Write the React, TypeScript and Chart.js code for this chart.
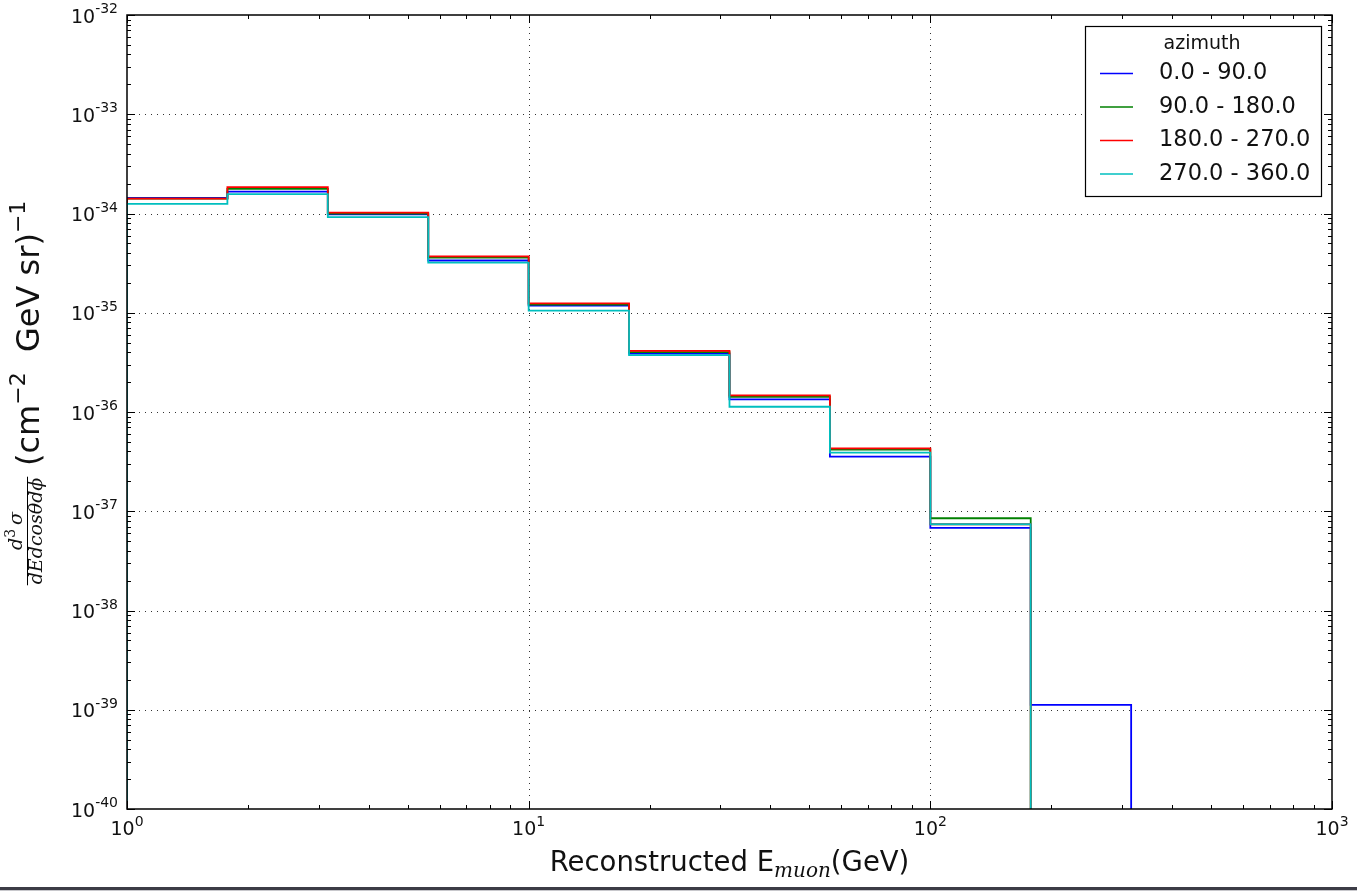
import React, { useEffect, useRef } from "react";
import { Chart, registerables } from "chart.js";

Chart.register(...registerables);

// Muon energy bin edges (GeV), logarithmic binning, 4 bins per decade
const binEdges = [1, 1.778, 3.162, 5.623, 10, 17.78, 31.62, 56.23, 100, 177.8, 316.2];

// Differential cross section per azimuth slice, cm^-2 GeV^-1 sr^-1 (0 = empty bin)
const azimuth0to90 = [1.44e-34, 1.66e-34, 9.8e-35, 3.36e-35, 1.18e-35, 3.88e-36, 1.34e-36, 3.55e-37, 6.8e-38, 1.12e-39];
const azimuth90to180 = [1.41e-34, 1.77e-34, 1.0e-34, 3.6e-35, 1.21e-35, 4.02e-36, 1.42e-36, 4.19e-37, 8.5e-38, 0];
const azimuth180to270 = [1.41e-34, 1.84e-34, 1.02e-34, 3.69e-35, 1.245e-35, 4.12e-36, 1.47e-36, 4.31e-37, 7.4e-38, 0];
const azimuth270to360 = [1.25e-34, 1.57e-34, 9.2e-35, 3.2e-35, 1.05e-35, 3.75e-36, 1.13e-36, 3.89e-37, 7.4e-38, 0];

const seriesLabels = ["0.0 - 90.0", "90.0 - 180.0", "180.0 - 270.0", "270.0 - 360.0"];
const seriesColors = ["#0000ff", "#008000", "#ff0000", "#00bfbf"];
const seriesValues = [azimuth0to90, azimuth90to180, azimuth180to270, azimuth270to360];

const legendTitle = "azimuth";
const xTickExponents = [0, 1, 2, 3];
const yTickExponents = [-32, -33, -34, -35, -36, -37, -38, -39, -40];

const X_MIN = 1;
const X_MAX = 1000;
const Y_MIN = 1e-40;
const Y_MAX = 1e-32;

const SANS = '"DejaVu Sans", sans-serif';
const SERIF = '"DejaVu Serif", serif';

// Outline of a step histogram: rises from the axis floor at the first edge,
// follows each bin, and drops back to the floor after the last filled bin
function stepOutline(edges: number[], values: number[]) {
  let last = values.length - 1;
  while (last >= 0 && !(values[last] > 0)) last--;
  const pts: { x: number; y: number }[] = [];
  pts.push({ x: edges[0], y: Y_MIN });
  for (let i = 0; i <= last; i++) {
    const v = values[i] > 0 ? values[i] : Y_MIN;
    pts.push({ x: edges[i], y: v });
    pts.push({ x: edges[i + 1], y: v });
  }
  pts.push({ x: edges[last + 1], y: Y_MIN });
  return pts;
}

function drawPower(ctx: CanvasRenderingContext2D, exp: string, x: number, baseline: number, align: "right" | "center") {
  ctx.font = `19px ${SANS}`;
  const wBase = ctx.measureText("10").width;
  ctx.font = `14px ${SANS}`;
  const wSup = ctx.measureText(exp).width;
  const total = wBase + wSup;
  const left = align === "right" ? x - total : x - total / 2;
  ctx.textAlign = "left";
  ctx.textBaseline = "alphabetic";
  ctx.font = `19px ${SANS}`;
  ctx.fillText("10", left, baseline);
  ctx.font = `14px ${SANS}`;
  ctx.fillText(exp, left + wBase, baseline - 9.5);
}

const axesDecor = {
  id: "axesDecor",
  beforeDatasetsDraw(chart: any) {
    const { ctx, chartArea: a, scales } = chart;
    ctx.save();
    ctx.strokeStyle = "#333";
    ctx.lineWidth = 1;
    ctx.setLineDash([1, 5]);
    xTickExponents.forEach((e) => {
      const px = Math.round(scales.x.getPixelForValue(Math.pow(10, e))) + 0.5;
      if (px <= a.left + 1 || px >= a.right - 1) return;
      ctx.beginPath();
      ctx.moveTo(px, a.top);
      ctx.lineTo(px, a.bottom);
      ctx.stroke();
    });
    yTickExponents.forEach((e) => {
      const py = Math.round(scales.y.getPixelForValue(Math.pow(10, e))) + 0.5;
      if (py <= a.top + 1 || py >= a.bottom - 1) return;
      ctx.beginPath();
      ctx.moveTo(a.left, py);
      ctx.lineTo(a.right, py);
      ctx.stroke();
    });
    ctx.restore();
  },
  afterDatasetsDraw(chart: any) {
    const { ctx, chartArea: a, scales } = chart;
    ctx.save();
    ctx.setLineDash([]);
    ctx.strokeStyle = "#000";
    ctx.fillStyle = "#000";

    // tick marks on all four sides, pointing inward
    ctx.lineWidth = 1;
    const xMin = Math.log10(X_MIN), xMax = Math.log10(X_MAX);
    const yMin = Math.log10(Y_MIN), yMax = Math.log10(Y_MAX);
    ctx.beginPath();
    for (let d = xMin; d <= xMax; d++) {
      for (let k = 1; k <= 9; k++) {
        const v = k * Math.pow(10, d);
        if (v > X_MAX * 1.0001) break;
        const px = Math.round(scales.x.getPixelForValue(v)) + 0.5;
        const len = k === 1 ? 8 : 4;
        ctx.moveTo(px, a.bottom);
        ctx.lineTo(px, a.bottom - len);
        ctx.moveTo(px, a.top);
        ctx.lineTo(px, a.top + len);
      }
    }
    for (let d = yMin; d <= yMax; d++) {
      for (let k = 1; k <= 9; k++) {
        const v = k * Math.pow(10, d);
        if (v > Y_MAX * 1.0001) break;
        const py = Math.round(scales.y.getPixelForValue(v)) + 0.5;
        const len = k === 1 ? 8 : 4;
        ctx.moveTo(a.left, py);
        ctx.lineTo(a.left + len, py);
        ctx.moveTo(a.right, py);
        ctx.lineTo(a.right - len, py);
      }
    }
    ctx.stroke();

    // frame
    ctx.lineWidth = 1.5;
    ctx.strokeRect(a.left, a.top, a.right - a.left, a.bottom - a.top);

    // tick labels
    ctx.fillStyle = "#111";
    yTickExponents.forEach((e) => {
      const py = scales.y.getPixelForValue(Math.pow(10, e));
      drawPower(ctx, String(e), a.left - 9, py + 7.5, "right");
    });
    xTickExponents.forEach((e) => {
      const px = scales.x.getPixelForValue(Math.pow(10, e));
      drawPower(ctx, String(e), px, a.bottom + 26, "center");
    });

    // x axis title
    const xMain = "Reconstructed E";
    const xSub = "muon";
    const xTail = "(GeV)";
    ctx.font = `27.5px ${SANS}`;
    const w1 = ctx.measureText(xMain).width;
    const w3 = ctx.measureText(xTail).width;
    ctx.font = `italic 20px ${SERIF}`;
    const w2 = ctx.measureText(xSub).width;
    const cx = (a.left + a.right) / 2;
    let tx = cx - (w1 + w2 + w3) / 2;
    const tb = 871;
    ctx.textAlign = "left";
    ctx.textBaseline = "alphabetic";
    ctx.font = `27.5px ${SANS}`;
    ctx.fillText(xMain, tx, tb);
    tx += w1;
    ctx.font = `italic 20px ${SERIF}`;
    ctx.fillText(xSub, tx, tb + 6);
    tx += w2;
    ctx.font = `27.5px ${SANS}`;
    ctx.fillText(xTail, tx, tb);

    // y axis title: fraction followed by units, rotated
    ctx.save();
    ctx.translate(27, 531);
    ctx.rotate(-Math.PI / 2);
    ctx.textAlign = "left";
    ctx.textBaseline = "alphabetic";
    ctx.font = `italic 19px ${SERIF}`;
    const den = "dEdcosθdϕ";
    const wDen = ctx.measureText(den).width;
    ctx.fillText(den, -wDen / 2, 15);
    // numerator d^3 sigma
    const wd = ctx.measureText("d").width;
    const wsig = ctx.measureText("σ").width;
    ctx.font = `14px ${SERIF}`;
    const w3n = ctx.measureText("3").width;
    const numW = wd + w3n + 4 + wsig;
    let nx = -numW / 2;
    ctx.font = `italic 19px ${SERIF}`;
    ctx.fillText("d", nx, -5);
    nx += wd;
    ctx.font = `14px ${SERIF}`;
    ctx.fillText("3", nx, -12);
    nx += w3n + 4;
    ctx.font = `italic 19px ${SERIF}`;
    ctx.fillText("σ", nx, -5);
    ctx.lineWidth = 1;
    ctx.beginPath();
    ctx.moveTo(-wDen / 2 - 1, 0.5);
    ctx.lineTo(wDen / 2 + 1, 0.5);
    ctx.stroke();
    ctx.restore();

    ctx.save();
    ctx.translate(39, 466);
    ctx.rotate(-Math.PI / 2);
    ctx.textBaseline = "alphabetic";
    ctx.textAlign = "left";
    let ux = 0;
    const part = (txt: string, size: number, dy: number) => {
      ctx.font = `${size}px ${SANS}`;
      ctx.fillText(txt, ux, dy);
      ux += ctx.measureText(txt).width;
    };
    part("(cm", 32, 0);
    part("\u22122", 22, -14);
    part("  GeV sr)", 32, 0);
    part("\u22121", 22, -14);
    ctx.restore();

    // legend
    const lx = 1085, ly = 26, lw = 236, lh = 170;
    ctx.fillStyle = "#fff";
    ctx.fillRect(lx, ly, lw, lh);
    ctx.strokeStyle = "#000";
    ctx.lineWidth = 1.2;
    ctx.strokeRect(lx + 0.5, ly + 0.5, lw, lh);
    ctx.fillStyle = "#111";
    ctx.font = `19px ${SANS}`;
    ctx.textAlign = "center";
    ctx.textBaseline = "middle";
    ctx.fillText(legendTitle, 1202, 44);
    chart.data.datasets.forEach((ds: any, i: number) => {
      const ry = 73.5 + i * 33.5;
      ctx.strokeStyle = ds.borderColor;
      ctx.lineWidth = 1.5;
      ctx.beginPath();
      ctx.moveTo(1100, ry);
      ctx.lineTo(1133, ry);
      ctx.stroke();
      ctx.fillStyle = "#111";
      ctx.font = `22.5px ${SANS}`;
      ctx.textAlign = "left";
      ctx.fillText(ds.label, 1159, ry);
    });

    // dark strip along the bottom edge
    ctx.fillStyle = "#3c3c46";
    ctx.fillRect(0, 887, chart.width, 3);
    ctx.fillStyle = "#c8c8cc";
    ctx.fillRect(0, 890, chart.width, 1);
    ctx.restore();
  },
};

export default function App() {
  const canvasRef = useRef<HTMLCanvasElement | null>(null);

  useEffect(() => {
    if (!canvasRef.current) return;
    const datasets = seriesValues.map((vals, i) => ({
      label: seriesLabels[i],
      data: stepOutline(binEdges, vals),
      borderColor: seriesColors[i],
      backgroundColor: seriesColors[i],
      borderWidth: 1.8,
      pointRadius: 0,
      fill: false,
      tension: 0,
      order: seriesValues.length - i,
    }));
    const chart = new Chart(canvasRef.current, {
      type: "line",
      data: { datasets },
      options: {
        animation: false,
        responsive: false,
        devicePixelRatio: 1,
        parsing: false,
        layout: { padding: { top: 15, right: 25, left: 0, bottom: 0 } },
        plugins: { legend: { display: false }, tooltip: { enabled: false } },
        scales: {
          x: {
            type: "logarithmic",
            min: X_MIN,
            max: X_MAX,
            ticks: { display: false },
            grid: { display: false },
            border: { display: false },
            afterFit: (s: any) => {
              s.height = 84;
            },
          },
          y: {
            type: "logarithmic",
            min: Y_MIN,
            max: Y_MAX,
            ticks: { display: false },
            grid: { display: false },
            border: { display: false },
            afterFit: (s: any) => {
              s.width = 127;
            },
          },
        },
      } as any,
      plugins: [axesDecor],
    });
    return () => chart.destroy();
  }, []);

  return (
    <div style={{ position: "fixed", left: 0, top: 0, width: 1357, height: 893, background: "#fff" }}>
      <canvas ref={canvasRef} width={1357} height={893} style={{ display: "block", width: 1357, height: 893 }} />
    </div>
  );
}
